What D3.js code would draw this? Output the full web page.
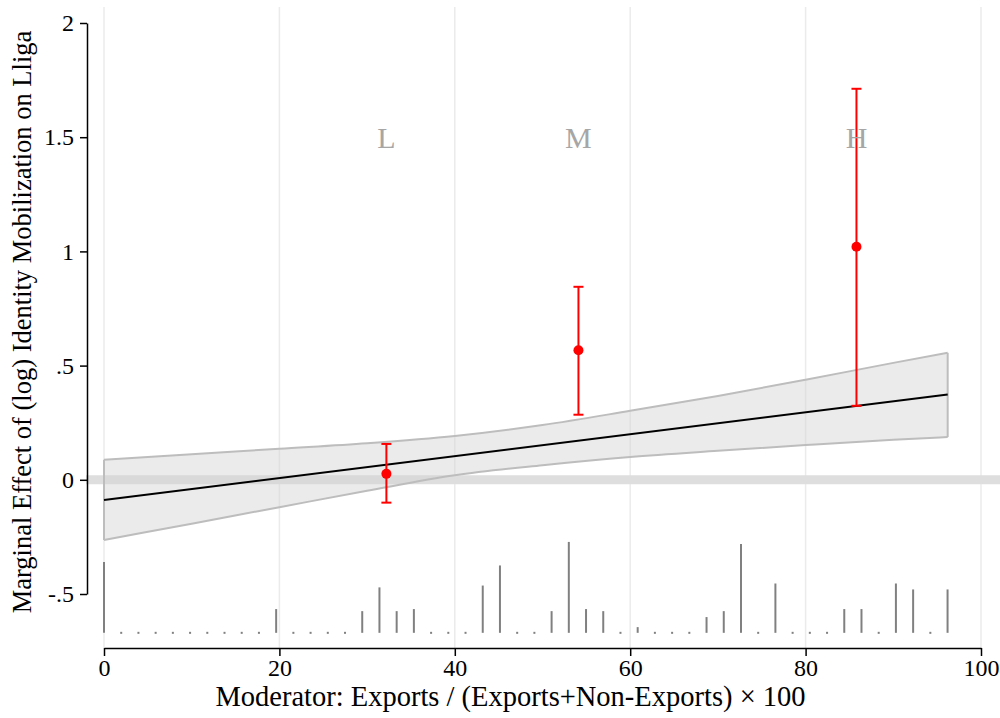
<!DOCTYPE html>
<meta charset="utf-8">
<title>Marginal effect</title>
<style>
  body { margin: 0; background: #fff; }
  svg text { font-family: "Liberation Serif", "DejaVu Serif", serif; }
  .axis path, .axis line { stroke: #000; stroke-width: 1.5px; }
  .axis text { font-size: 24px; fill: #000; }
</style>
<svg width="1000" height="718"></svg>
<script src="https://cdn.jsdelivr.net/npm/d3@7"></script>
<script>
  // fitted marginal effect (linear) and its confidence band
  var fitX = [0, 96.2],
    fitY = [-0.088, 0.373];

  var bandX = [0, 10, 20, 30, 40, 50, 60, 70, 80, 90, 96.2],
    bandLo = [-0.264, -0.192, -0.120, -0.048, 0.020, 0.064, 0.100, 0.127, 0.152, 0.175, 0.187],
    bandHi = [0.088, 0.112, 0.136, 0.160, 0.192, 0.240, 0.302, 0.367, 0.438, 0.512, 0.556];

  // binned estimates (L, M, H)
  var binLabels = ["L", "M", "H"],
    binX = [32.2, 54.1, 85.8],
    binEst = [0.026, 0.567, 1.020],
    binLo = [-0.100, 0.285, 0.324],
    binHi = [0.157, 0.845, 1.712];

  // moderator distribution (bar heights in y-axis units)
  var histStart = 0,
    histWidth = 1.963,
    histBase = -0.67,
    histHeight = [0.310, 0, 0, 0, 0, 0, 0, 0, 0, 0,
      0.104, 0, 0, 0, 0, 0.095, 0.199, 0.095, 0.104, 0,
      0, 0, 0.207, 0.295, 0, 0, 0.095, 0.398, 0.104, 0.095,
      0, 0.025, 0, 0, 0, 0.069, 0.095, 0.389, 0, 0.216,
      0, 0, 0, 0.104, 0.104, 0, 0.216, 0.190, 0, 0.190];

  var xTicks = [0, 20, 40, 60, 80, 100],
    yTicks = [-0.5, 0, 0.5, 1, 1.5, 2];

  var xTitle = "Moderator: Exports / (Exports+Non-Exports) \u00d7 100",
    yTitle = "Marginal Effect of (log) Identity Mobilization on Lliga";

  var svg = d3.select("svg");

  var x = d3.scaleLinear().domain([0, 100]).range([104, 981]);
  var y = d3.scaleLinear().domain([-0.5, 2]).range([594, 23]);

  // vertical grid
  svg.append("g").selectAll("line")
    .data(xTicks)
    .enter().append("line")
    .attr("x1", function(d) { return x(d); })
    .attr("x2", function(d) { return x(d); })
    .attr("y1", 7)
    .attr("y2", 648)
    .attr("stroke", "#ebebeb")
    .attr("stroke-width", 1.5);

  // zero reference
  svg.append("line")
    .attr("x1", 86).attr("x2", 1000)
    .attr("y1", y(0)).attr("y2", y(0))
    .attr("stroke", "#dedede")
    .attr("stroke-width", 9);

  // confidence band
  var band = bandX.map(function(d, i) { return { x: d, lo: bandLo[i], hi: bandHi[i] }; });
  var area = d3.area()
    .x(function(d) { return x(d.x); })
    .y0(function(d) { return y(d.lo); })
    .y1(function(d) { return y(d.hi); })
    .curve(d3.curveMonotoneX);

  svg.append("path")
    .datum(band)
    .attr("d", area)
    .attr("fill", "#d3d3d3")
    .attr("fill-opacity", 0.45)
    .attr("stroke", "none");

  ["lo", "hi"].forEach(function(k) {
    svg.append("path")
      .datum(band)
      .attr("d", d3.line()
        .x(function(d) { return x(d.x); })
        .y(function(d) { return y(d[k]); })
        .curve(d3.curveMonotoneX))
      .attr("fill", "none")
      .attr("stroke", "#bdbdbd")
      .attr("stroke-width", 2);
  });
  // band end caps
  [0, band.length - 1].forEach(function(i) {
    svg.append("line")
      .attr("x1", x(band[i].x)).attr("x2", x(band[i].x))
      .attr("y1", y(band[i].lo)).attr("y2", y(band[i].hi))
      .attr("stroke", "#bdbdbd")
      .attr("stroke-width", 2);
  });

  // fitted line
  svg.append("line")
    .attr("x1", x(fitX[0])).attr("x2", x(fitX[1]))
    .attr("y1", y(fitY[0])).attr("y2", y(fitY[1]))
    .attr("stroke", "#000")
    .attr("stroke-width", 2);

  // histogram
  var hist = svg.append("g");
  histHeight.forEach(function(h, i) {
    var cx = x(histStart + i * histWidth);
    if (h > 0) {
      hist.append("line")
        .attr("x1", cx).attr("x2", cx)
        .attr("y1", y(histBase)).attr("y2", y(histBase + h))
        .attr("stroke", "#808080")
        .attr("stroke-width", 2);
    } else {
      hist.append("rect")
        .attr("x", cx - 1).attr("y", y(histBase) - 1)
        .attr("width", 2).attr("height", 2)
        .attr("fill", "#808080");
    }
  });

  // binned estimates
  var bins = svg.append("g").selectAll("g")
    .data(binX)
    .enter().append("g");

  bins.append("line")
    .attr("x1", function(d) { return x(d); })
    .attr("x2", function(d) { return x(d); })
    .attr("y1", function(d, i) { return y(binLo[i]); })
    .attr("y2", function(d, i) { return y(binHi[i]); })
    .attr("stroke", "red")
    .attr("stroke-width", 2);

  [binLo, binHi].forEach(function(arr) {
    bins.append("line")
      .attr("x1", function(d) { return x(d) - 5; })
      .attr("x2", function(d) { return x(d) + 5; })
      .attr("y1", function(d, i) { return y(arr[i]); })
      .attr("y2", function(d, i) { return y(arr[i]); })
      .attr("stroke", "red")
      .attr("stroke-width", 2);
  });

  bins.append("circle")
    .attr("cx", function(d) { return x(d); })
    .attr("cy", function(d, i) { return y(binEst[i]); })
    .attr("r", 5)
    .attr("fill", "red");

  bins.append("text")
    .attr("x", function(d) { return x(d); })
    .attr("y", y(1.5))
    .attr("dy", "0.35em")
    .attr("text-anchor", "middle")
    .attr("font-size", 30)
    .attr("fill", "#a6a6a6")
    .text(function(d, i) { return binLabels[i]; });

  // axes
  svg.append("g")
    .attr("class", "axis")
    .attr("transform", "translate(0,648)")
    .call(d3.axisBottom(x).tickValues(xTicks).tickSize(8).tickSizeOuter(0).tickPadding(3));

  svg.append("g")
    .attr("class", "axis")
    .attr("transform", "translate(87,0)")
    .call(d3.axisLeft(y).tickValues(yTicks).tickSize(7).tickSizeOuter(0).tickPadding(6)
      .tickFormat(function(d) { return String(d).replace(/^(-?)0\./, "$1."); }));

  svg.append("text")
    .attr("x", (213 + 808) / 2)
    .attr("y", 706)
    .attr("text-anchor", "middle")
    .attr("font-size", 28.5)
    .text(xTitle);

  svg.append("text")
    .attr("transform", "translate(31,322) rotate(-90)")
    .attr("text-anchor", "middle")
    .attr("font-size", 26.5)
    .text(yTitle);
</script>
